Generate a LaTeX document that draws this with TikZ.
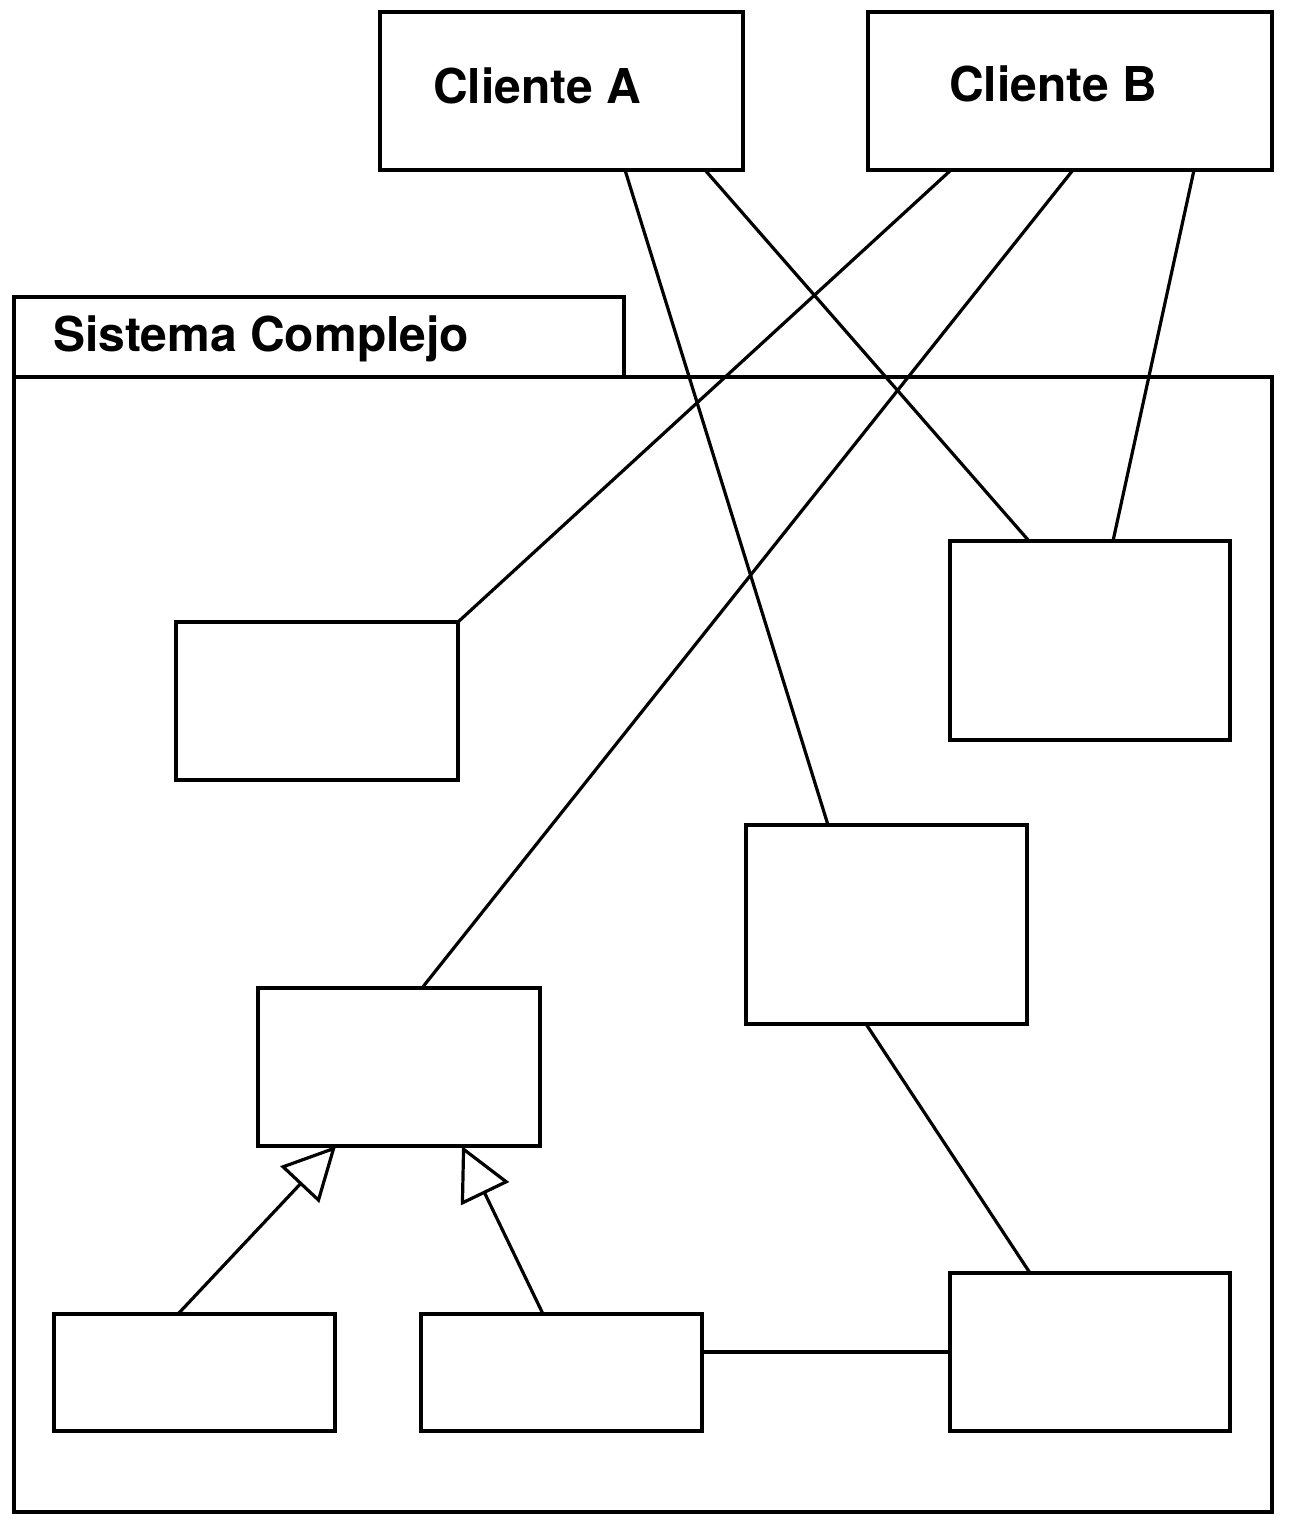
\documentclass[tikz,border=0pt]{standalone}
\usepackage{fontspec}
\usepackage{tikz}
\usetikzlibrary{arrows.meta}
\newfontfamily\heros{TeX Gyre Heros}
\newcommand{\clab}[1]{\fontsize{48}{57}\selectfont\heros\bfseries #1}

\begin{document}
\begin{tikzpicture}[x=1pt,y=-1pt,line width=3.2pt,
   every node/.style={inner sep=0pt,outer sep=0pt},
   cbox/.style={rectangle,draw=black,line width=3.2pt},
   gen/.style={-{Triangle[open,length=53pt,width=53pt,fill=white]},draw=black,line width=3.2pt}]
 \useasboundingbox (0,0) rectangle (1316,1520);

 \draw (561.5,91)  node[cbox,minimum width=363,minimum height=158] (clA) {};
 \draw (1070,91)   node[cbox,minimum width=404,minimum height=158] (clB) {};
 \draw (537,103)   node[anchor=base] (clAt) {\clab{Cliente A}};
 \draw (1053,101)  node[anchor=base] (clBt) {\clab{Cliente B}};

 \draw (319,337)   node[cbox,minimum width=610,minimum height=80] (tab) {};
 \draw (643,944.5) node[cbox,minimum width=1258,minimum height=1135] (pkg) {};
 \draw (53,351)    node[anchor=base west] (tabt) {\clab{Sistema Complejo}};

 \draw (317,701)     node[cbox,minimum width=282,minimum height=158] (b1) {};
 \draw (1090,640.5)  node[cbox,minimum width=280,minimum height=199] (b2) {};
 \draw (886.5,924.5) node[cbox,minimum width=281,minimum height=199] (b3) {};
 \draw (399,1067)    node[cbox,minimum width=282,minimum height=158] (b4) {};
 \draw (194.5,1372.5) node[cbox,minimum width=281,minimum height=117] (b5) {};
 \draw (561.5,1372.5) node[cbox,minimum width=281,minimum height=117] (b6) {};
 \draw (1090,1352)   node[cbox,minimum width=280,minimum height=158] (b7) {};

 \draw ([xshift=245]clA.south west) -- ([xshift=82]b3.north west);
 \draw ([xshift=325]clA.south west) -- ([xshift=79]b2.north west);
 \draw ([xshift=83]clB.south west)  -- (b1.north east);
 \draw ([xshift=205]clB.south west) -- ([xshift=164]b4.north west);
 \draw ([xshift=326]clB.south west) -- ([xshift=163]b2.north west);
 \draw ([xshift=120]b3.south west)  -- ([xshift=80]b7.north west);
 \draw (b6.east |- b7.west) -- (b7.west);

 \draw[gen] ([xshift=124]b5.north west) -- ([xshift=78]b4.south west);
 \draw[gen] ([xshift=122]b6.north west) -- ([xshift=204]b4.south west);

\end{tikzpicture}
\end{document}
